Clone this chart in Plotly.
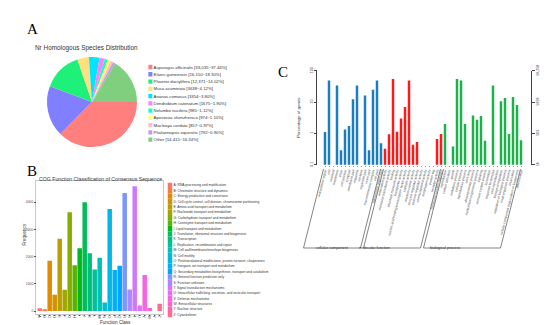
import math
import plotly.graph_objects as go

# ---------------- data ----------------
# Panel A: Nr homologous species distribution
species = ["Asparagus officinalis", "Elaeis guineensis", "Phoenix dactylifera", "Musa acuminata",
           "Ananas comosus", "Dendrobium catenatum", "Nelumbo nucifera", "Apostasia shenzhenica",
           "Macleaya cordata", "Phalaenopsis equestris", "Other"]
species_counts = [33035, 16150, 12371, 3638, 3354, 1675, 985, 974, 857, 792, 14415]
species_pct = ["37.44", "18.30", "14.02", "4.12", "3.80", "1.90", "1.12", "1.10", "0.97", "0.90", "16.34"]

# Panel B: COG function classification
cog_letters = ["A", "B", "C", "D", "E", "F", "G", "H", "I", "J", "K", "L", "M",
               "N", "O", "P", "Q", "R", "S", "T", "U", "V", "W", "Y", "Z"]
cog_names = ["RNA processing and modification",
             "Chromatin structure and dynamics",
             "Energy production and conversion",
             "Cell cycle control, cell division, chromosome partitioning",
             "Amino acid transport and metabolism",
             "Nucleotide transport and metabolism",
             "Carbohydrate transport and metabolism",
             "Coenzyme transport and metabolism",
             "Lipid transport and metabolism",
             "Translation, ribosomal structure and biogenesis",
             "Transcription",
             "Replication, recombination and repair",
             "Cell wall/membrane/envelope biogenesis",
             "Cell motility",
             "Posttranslational modification, protein turnover, chaperones",
             "Inorganic ion transport and metabolism",
             "Secondary metabolites biosynthesis, transport and catabolism",
             "General function prediction only",
             "Function unknown",
             "Signal transduction mechanisms",
             "Intracellular trafficking, secretion, and vesicular transport",
             "Defense mechanisms",
             "Extracellular structures",
             "Nuclear structure",
             "Cytoskeleton"]
cog_counts = [100, 60, 1850, 600, 2660, 785, 3630, 1680, 2310, 4000, 2120, 1530, 1960,
              310, 3750, 1510, 1660, 4340, 790, 4590, 200, 1320, 110, 0, 270]

# Panel C: GO classification (percentage of genes)
go_cc_terms = ["extracellular region", "cell", "nucleoid", "membrane", "virion", "cell junction",
               "symplast", "membrane part", "organelle", "synapse", "organelle part", "virion part",
               "macromolecular complex", "cell part", "extracellular region part"]
go_cc_pct = [1.1, 49, 0, 34, 0.29, 1.34, 1.71, 12.2, 34, 0, 16.3, 0.29, 24.6, 49, 0.48]
go_mf_terms = ["antioxidant activity", "molecular transducer activity", "binding",
               "structural molecule activity", "transporter activity",
               "nucleic acid binding transcription factor activity", "catalytic activity",
               "electron carrier activity", "enzyme regulator activity", "channel regulator activity",
               "chemorepellent activity", "morphogen activity", "protein tag",
               "receptor activity", "molecular function regulator"]
go_mf_pct = [0.32, 0.93, 54, 1.13, 3.0, 6.9, 49, 0.43, 0.53, 0, 0, 0, 0, 0.66, 0.95]
go_bp_terms = ["reproduction", "carbon utilization", "growth", "metabolic process", "cellular process",
               "reproductive process", "cell killing", "developmental process",
               "multicellular organismal process", "signaling", "immune system process", "locomotion",
               "response to stimulus", "viral reproduction", "biological regulation",
               "regulation of biological process", "multi-organism process", "localization",
               "cellular component organization or biogenesis", "detoxification"]
go_bp_pct = [1.99, 0, 0.38, 54, 49, 2.0, 0, 3.75, 2.73, 3.57, 0.58, 0, 34, 0, 10.5, 13.4, 0.95,
             14.4, 8.0, 0.6]
go_groups = ["cellular component", "molecular function", "biological process"]
go_total_genes = 56258
go_pct_ticks = [0.1, 1, 10, 100]

# ---------------- style ----------------
W, H = 550, 325
def fx(p): return p / W
def fy(p): return 1 - p / H

species_colors = ["#FF7F7F", "#7F7FFF", "#1EF07A", "#FFDF7F", "#00E5FF", "#FF7FFF",
                  "#19FFBF", "#FFFF70", "#FFBFBF", "#BF9FDF", "#7FCF7F"]
group_colors = ["#1A7DC0", "#FF1A1A", "#1DB14B"]

def hcl_hex(h, c=100.0, l=65.0):
    hr = math.radians(h)
    U, V = c * math.cos(hr), c * math.sin(hr)
    Xn, Yn, Zn = 95.047, 100.0, 108.883
    Y = Yn * ((l + 16) / 116) ** 3
    den = Xn + 15 * Yn + 3 * Zn
    un, vn = 4 * Xn / den, 9 * Yn / den
    u = U / (13 * l) + un
    v = V / (13 * l) + vn
    X = 9 * Y * u / (4 * v)
    Z = -X / 3 - 5 * Y + 3 * Y / v
    X, Y, Z = X / 100, Y / 100, Z / 100
    r = 3.240479 * X - 1.537150 * Y - 0.498535 * Z
    g = -0.969256 * X + 1.875992 * Y + 0.041556 * Z
    b = 0.055648 * X - 0.204043 * Y + 1.057311 * Z
    def gam(t):
        t = 12.92 * t if t <= 0.0031308 else 1.055 * (max(t, 0) ** (1 / 2.4)) - 0.055
        return int(round(min(max(t, 0), 1) * 255))
    return "#%02X%02X%02X" % (gam(r), gam(g), gam(b))

n_cog = len(cog_letters)
cog_colors = [hcl_hex(15 + 360 * i / n_cog) for i in range(n_cog)]

SANS = "Liberation Sans"
fig = go.Figure()

# ---------------- Panel A ----------------
fig.add_trace(go.Pie(labels=species, values=species_counts, sort=False, direction="clockwise",
                     rotation=90, textinfo="none", hoverinfo="label+value+percent",
                     marker=dict(colors=species_colors, line=dict(width=0)),
                     domain=dict(x=[fx(39), fx(129)], y=[fy(139), fy(49)]), showlegend=False))

def fmt_count(n):
    return f"{n:,}" if n >= 10000 else str(n)
species_labels = [f"{s} [{fmt_count(c)}~{p}%]" for s, c, p in zip(species, species_counts, species_pct)]
fig.add_trace(go.Bar(x=[1] * len(species), y=species_labels, orientation="h", width=0.6,
                     marker=dict(color=species_colors, line=dict(width=0)),
                     xaxis="x", yaxis="y", showlegend=False, hoverinfo="y"))

# ---------------- Panel B ----------------
fig.add_trace(go.Bar(x=cog_letters, y=cog_counts, width=0.9,
                     marker=dict(color=cog_colors, line=dict(width=0)),
                     xaxis="x2", yaxis="y2", showlegend=False))
cog_labels = [f"{l}: {n}" for l, n in zip(cog_letters, cog_names)]
fig.add_trace(go.Bar(x=[1] * n_cog, y=cog_labels, orientation="h", width=1.0,
                     marker=dict(color=cog_colors, line=dict(width=0)),
                     xaxis="x5", yaxis="y5", showlegend=False, hoverinfo="y"))

# ---------------- Panel C ----------------
go_terms = go_cc_terms + go_mf_terms + go_bp_terms
go_pct = go_cc_pct + go_mf_pct + go_bp_pct
go_colors = ([group_colors[0]] * len(go_cc_terms) + [group_colors[1]] * len(go_mf_terms)
             + [group_colors[2]] * len(go_bp_terms))
go_pct_plot = [p if p > 0 else None for p in go_pct]
fig.add_trace(go.Bar(x=go_terms, y=go_pct_plot, width=0.62,
                     marker=dict(color=go_colors, line=dict(width=0)),
                     xaxis="x3", yaxis="y3", showlegend=False))
go_counts = [p * go_total_genes / 100 if p > 0 else None for p in go_pct]
fig.add_trace(go.Scatter(x=go_terms, y=go_counts, mode="markers", marker=dict(opacity=0, size=1),
                         xaxis="x3", yaxis="y4", showlegend=False, hoverinfo="skip"))

gene_ticks = [go_total_genes * t / 100 for t in go_pct_ticks]
gene_ticktext = [f"{round(v):,}" if v >= 10000 else str(round(v)) for v in gene_ticks]

# geometry of panel C x axis (pixels)
C_X0, C_X1 = 315.0, 515.0
n_go = len(go_terms)
def c_px(k):
    return C_X0 + (C_X1 - C_X0) * (k + 0.5) / n_go

small = dict(family=SANS, color="#333333")

fig.update_layout(
    width=W, height=H, margin=dict(l=0, r=0, t=0, b=0),
    paper_bgcolor="white", plot_bgcolor="rgba(0,0,0,0)",
    barmode="overlay", showlegend=False, font=dict(family=SANS, color="#333333"),
    # A legend strip
    xaxis=dict(domain=[fx(140.2), fx(144.6)], range=[0, 1], visible=False, fixedrange=True, automargin=False),
    yaxis=dict(domain=[fy(135.3), fy(55.4)], anchor="x", side="right", type="category",
               autorange="reversed", showgrid=False, zeroline=False, showline=False, ticks="",
               tickfont=dict(size=4.3, **small), automargin=False),
    # B chart
    xaxis2=dict(domain=[fx(28.3), fx(155.1)], anchor="y2", type="category", range=[-0.68, 24.68],
                tickmode="array", tickvals=cog_letters, ticktext=cog_letters,
                showline=True, mirror=True, linecolor="#C8C8C8", linewidth=0.6, ticks="outside",
                ticklen=1.5, tickwidth=0.5, tickcolor="#555", showgrid=False, zeroline=False,
                ticklabelstandoff=-4,
                tickfont=dict(size=4.3, family=SANS, color="#4D4D4D"), automargin=False),
    yaxis2=dict(domain=[fy(305.7), fy(173.3)], anchor="x2", range=[-99, 4768],
                tickvals=[0, 1000, 2000, 3000, 4000], showline=True, mirror=True, linecolor="#C8C8C8",
                linewidth=0.6, ticks="outside", ticklen=1.5, tickwidth=0.5, tickcolor="#555",
                showgrid=False, zeroline=False, tickfont=dict(size=3.4, family=SANS, color="#4D4D4D"),
                automargin=False),
    # B legend strip
    xaxis5=dict(domain=[fx(159.5), fx(164.5)], anchor="y5", range=[0, 1], visible=False, automargin=False),
    yaxis5=dict(domain=[fy(309.4), fy(174.6)], anchor="x5", side="right", type="category",
                autorange="reversed", showgrid=False, zeroline=False, showline=False, ticks="",
                tickfont=dict(size=3.3, **small), automargin=False),
    # C chart
    xaxis3=dict(domain=[fx(C_X0), fx(C_X1)], anchor="y3", type="category", range=[-0.5, n_go - 0.5],
                tickmode="array", tickvals=go_terms, ticktext=go_terms, tickangle=-76,
                ticks="outside", ticklen=1.5, tickwidth=0.5, tickcolor="#999", showline=False,
                showgrid=False, zeroline=False, tickfont=dict(size=3.3, family=SANS, color="#555"),
                automargin=False),
    yaxis3=dict(domain=[fy(156.7), fy(62.7)], type="log", range=[-1, 2], anchor="free",
                position=fx(308.3), showline=True, linecolor="#444", linewidth=0.6, ticks="outside",
                ticklen=2.5, tickwidth=0.6, tickcolor="#444", tickmode="array", tickvals=go_pct_ticks,
                ticktext=[str(t) for t in go_pct_ticks], tickangle=-90, showgrid=False, zeroline=False,
                tickfont=dict(size=3.6, **small), automargin=False),
    yaxis4=dict(domain=[fy(156.7), fy(62.7)], type="log", overlaying="y3", side="right", anchor="free",
                position=fx(523.3),
                range=[math.log10(gene_ticks[0]), math.log10(gene_ticks[-1])], showline=True,
                linecolor="#444", linewidth=0.6, ticks="outside", ticklen=2.5, tickwidth=0.6,
                tickcolor="#444", tickmode="array", tickvals=gene_ticks, ticktext=gene_ticktext,
                tickangle=-90, showgrid=False, zeroline=False, tickfont=dict(size=3.6, **small),
                automargin=False),
)

ann = []
def add_text(text, x, y, size, **kw):
    d = dict(text=text, x=fx(x), y=fy(y), xref="paper", yref="paper", showarrow=False,
             font=dict(size=size, family=kw.pop("family", SANS), color=kw.pop("color", "#333333")))
    d.update(kw)
    ann.append(d)

add_text("A", 17.5, 11.5, 15, family="Liberation Serif", color="black")
add_text("B", 17, 162.5, 15, family="Liberation Serif", color="black")
add_text("C", 275, 54, 15, family="Liberation Serif", color="black")
add_text("Nr Homologous Species Distribution", 25, 34, 6.4, xanchor="left", color="#333")
add_text("COG Function Classification of Consensus Sequence", 29, 171, 5.2, xanchor="left")
add_text("Frequency", 11, 240, 4.6, textangle=-90)
add_text("Function Class", 90, 318.8, 4.6)
add_text("Percentage of genes", 290, 110, 4.4, textangle=-90)
add_text("Number of genes", 544, 110, 4.4, textangle=-90)

# group brackets for GO
sizes = [len(go_cc_terms), len(go_mf_terms), len(go_bp_terms)]
shapes = []
start = 0
TOP, BOT, SHIFT = 161.0, 240.0, -20.0
for g, n in zip(go_groups, sizes):
    left = c_px(start) - 1.5
    right = c_px(start + n - 1) - 0.5
    path = (f"M {fx(left)},{fy(TOP)} L {fx(left + SHIFT)},{fy(BOT)} "
            f"L {fx(right + SHIFT)},{fy(BOT)} L {fx(right)},{fy(TOP)}")
    shapes.append(dict(type="path", path=path, xref="paper", yref="paper",
                       line=dict(color="#333", width=0.6)))
    add_text(g, (left + right) / 2 + SHIFT, 243.5, 3.8)
    start += n

fig.update_layout(annotations=ann, shapes=shapes)
fig.write_html("out.html")
